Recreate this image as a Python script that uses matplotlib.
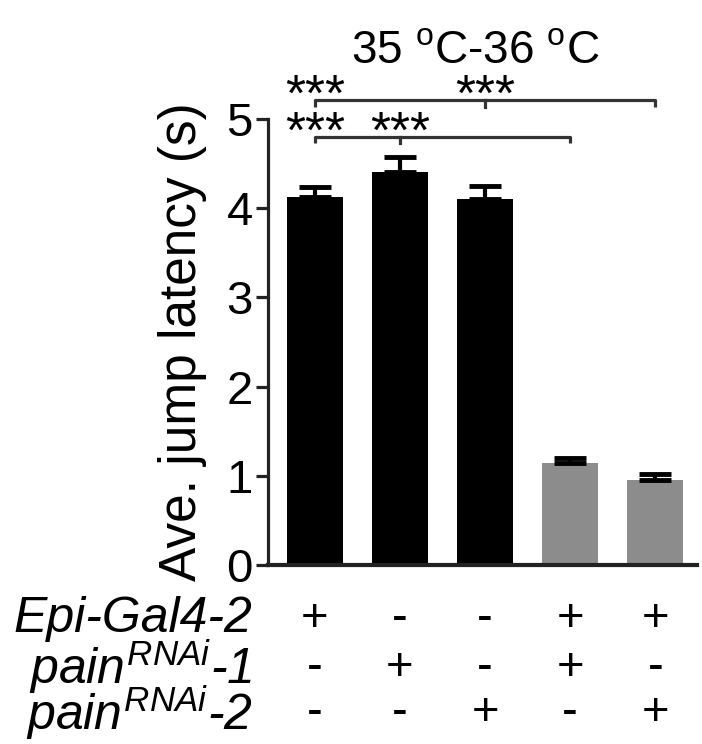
import numpy as np
import matplotlib
matplotlib.use('Agg')
import matplotlib.pyplot as plt

plt.rcParams['font.family'] = ['Liberation Sans', 'DejaVu Sans']
plt.rcParams['mathtext.fontset'] = 'custom'
plt.rcParams['mathtext.rm'] = 'Liberation Sans'
plt.rcParams['mathtext.it'] = 'Liberation Sans:italic'

means = [4.13, 4.41, 4.10, 1.14, 0.95]
sems = [0.11, 0.16, 0.15, 0.06, 0.07]
colors = ['black', 'black', 'black', '#8c8c8c', '#8c8c8c']
row_names = ['Epi-Gal4-2', r'$pain^{RNAi}$-1', r'$pain^{RNAi}$-2']
rows = [['+', '-', '-', '+', '+'],
        ['-', '+', '-', '+', '-'],
        ['-', '-', '+', '-', '+']]
# brackets: (start, middle, end, height)
brackets = [(0, 1, 3, 4.80), (0, 2, 4, 5.21)]

fig = plt.figure(figsize=(7.02, 7.44), dpi=100)
ax = fig.add_axes([0.3818, 0.2406, 0.6111, 0.5994])

x = np.arange(len(means))
ax.bar(x, means, width=0.66, color=colors, zorder=2)
ax.errorbar(x, means, yerr=[np.zeros(5), sems], fmt='none', ecolor='black',
            elinewidth=3, capsize=11.5, capthick=3.5, zorder=3)

ax.set_xlim(-0.55, 4.49)
ax.set_ylim(0, 5)
ax.set_yticks([0, 1, 2, 3, 4, 5])
ax.set_xticks([])
for s in ['top', 'right']:
    ax.spines[s].set_visible(False)
ax.spines['left'].set_linewidth(2.3)
ax.spines['bottom'].set_linewidth(3)
ax.spines['left'].set_color('#222222')
ax.spines['bottom'].set_color('#222222')
ax.tick_params(axis='y', length=9, width=2.3, color='#222222', labelsize=34, pad=2)
ax.set_ylabel('Ave. jump latency (s)', fontsize=37, labelpad=14)

for a, m, b, h in brackets:
    ax.plot([a, a, b, b], [h - 0.07, h, h, h - 0.07], color='#333333', lw=2.3,
            clip_on=False, solid_capstyle='butt')
    ax.plot([m, m], [h, h - 0.07], color='#333333', lw=2.3, clip_on=False)
    ax.text(a, h - 0.12, '***', ha='center', va='baseline', fontsize=37, clip_on=False)
    ax.text(m, h - 0.12, '***', ha='center', va='baseline', fontsize=37, clip_on=False)

ax.text(1.88, 5.76, r'35 $^{\mathrm{o}}$C-36 $^{\mathrm{o}}$C', ha='center', va='center',
        fontsize=33, clip_on=False)

row_y = [-0.61, -1.15, -1.66]
for name, vals, yy in zip(row_names, rows, row_y):
    ax.text(-0.73, yy, name, ha='right', va='center', fontsize=36, style='italic',
            clip_on=False)
    for xi, v in zip(x, vals):
        ax.text(xi, yy, v, ha='center', va='center', fontsize=34, clip_on=False)

fig.savefig('out.png', dpi=100)
